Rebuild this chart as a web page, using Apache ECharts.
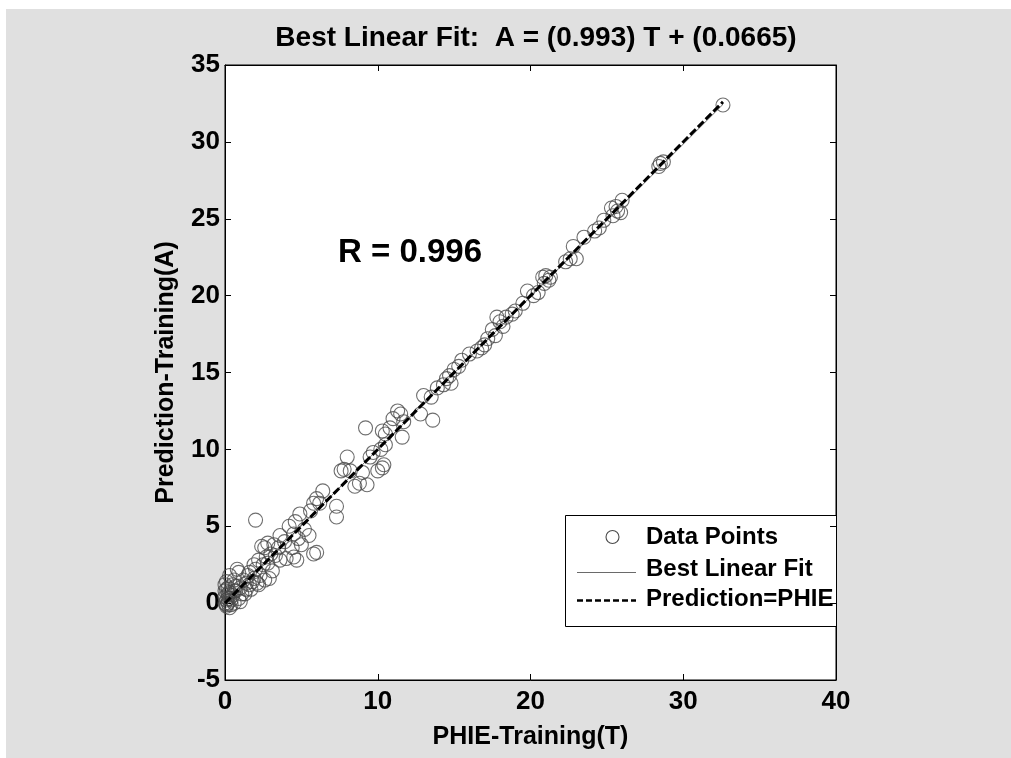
<!DOCTYPE html>
<html>
<head>
<meta charset="utf-8">
<title>Best Linear Fit</title>
<script src="https://cdn.jsdelivr.net/npm/echarts@6/dist/echarts.min.js"></script>
<style>
  html, body { margin: 0; padding: 0; background: #ffffff; }
  #chart { width: 1011px; height: 758px; }
</style>
</head>
<body>
<div id="chart"></div>
<script>
// Target values T (PHIE, training set)
const targetT = [
  32.6, 28.4, 28.7, 28.5,
  26.0, 25.6, 25.3, 25.7, 25.4, 25.9, 24.8, 24.5, 24.2,
  23.5, 23.0, 22.6, 22.3, 22.8,
  21.2, 21.0, 20.8, 20.9, 21.3, 20.5, 20.2, 19.8, 19.5,
  19.0, 18.8, 18.4, 18.0, 17.8, 18.2, 17.5, 17.7, 17.2, 17.0, 16.5, 16.0, 16.8,
  15.5, 15.3, 15.0, 14.7, 14.5, 14.3, 14.8, 13.9, 13.5, 13.0, 13.6, 12.8,
  11.5, 11.3, 11.0, 11.7, 11.6, 10.8, 10.5, 10.3, 10.5, 10.2, 9.5, 9.7,
  10.0, 10.3, 10.4, 9.2, 9.0, 9.3, 8.8, 8.2, 8.5, 7.6, 7.8, 8.0,
  6.4, 6.0, 6.2, 5.8, 7.3, 7.3, 5.6, 4.9, 4.6, 4.2, 4.5, 4.8, 5.2, 5.5, 5.0, 5.8, 6.0,
  4.4, 3.9, 3.5, 3.2, 2.8, 2.6, 2.4, 3.0, 2.8, 3.6, 4.0, 4.5, 4.7,
  2.2, 1.9, 2.0, 1.6, 2.3, 2.6, 2.9, 3.1, 1.8, 1.4, 1.2, 1.0, 0.9, 1.3, 0.7,
  0.5, 0.3, 0.2, 0.1, 0.0, 0.1, 0.4, 0.2, 0.5, 0.3, 0.6, 0.8, 0.1, 0.0,
  2.0, 3.6, 3.3, 1.5, 1.7, 0.9, 1.0, 0.6, 0.3, 2.5, 2.7, 2.2, 1.9,
  0.0, 0.1, 0.2, 0.0, 0.3, 0.4, 0.1, 0.2, 0.6, 0.7, 1.1, 1.4, 1.6, 2.1
];

// Network outputs A for the same samples
const outputA = [
  32.4, 28.4, 28.7, 28.6,
  26.2, 25.8, 25.7, 25.5, 25.2, 25.4, 24.9, 24.4, 24.2,
  23.8, 22.4, 22.4, 22.2, 23.2,
  21.0, 21.3, 21.2, 20.8, 21.2, 20.2, 20.0, 20.3, 19.5,
  19.0, 18.8, 18.6, 18.3, 18.6, 18.0, 17.8, 17.4, 17.2, 16.8, 16.4, 16.2, 16.6,
  15.8, 15.4, 15.2, 14.8, 14.6, 14.2, 14.3, 14.0, 13.4, 13.5, 11.9, 12.3,
  12.3, 12.5, 12.0, 11.8, 10.8, 11.4, 11.0, 11.2, 10.3, 10.0, 9.5, 9.8,
  8.6, 8.8, 9.0, 11.4, 8.5, 7.7, 7.8, 8.6, 7.6, 8.6, 8.7, 9.5,
  7.3, 6.8, 6.5, 6.5, 6.3, 5.6, 6.0, 5.8, 5.3, 5.0, 4.5, 4.2, 4.8, 4.4, 3.8, 3.2, 3.3,
  3.6, 4.0, 3.6, 3.8, 3.9, 3.6, 3.7, 3.2, 2.6, 2.8, 2.9, 3.0, 2.8,
  2.8, 2.5, 2.2, 2.0, 1.8, 1.5, 1.6, 2.1, 1.4, 1.3, 1.5, 1.0, 2.0, 0.6, 0.8,
  0.5, 0.3, 1.0, 0.2, 0.0, -0.2, -0.1, 0.6, 1.2, 1.8, 1.5, 2.2, 1.4, 0.8,
  5.4, 4.4, 3.1, 1.8, 0.9, 0.3, 0.1, 0.0, -0.3, 2.5, 3.0, 1.2, 1.6,
  0.4, 0.9, 0.3, 1.2, 0.7, 0.2, -0.1, 0.0, 0.8, 1.1, 0.6, 0.9, 1.2, 1.3
];

// Regression coefficients printed in the title: A = slope * T + intercept
const fitSlope = 0.993;
const fitIntercept = 0.0665;
const correlationR = 0.996;

// Axis ranges and tick spacing
const xTicks = { min: 0, max: 40, step: 10 };
const yTicks = { min: -5, max: 35, step: 5 };

const seriesNames = ['Data Points', 'Best Linear Fit', 'Prediction=PHIE'];

const points = targetT.map((t, i) => [t, outputA[i]]);
const tMin = Math.min(...targetT);
const tMax = Math.max(...targetT);
const fitLine = [[tMin, fitSlope * tMin + fitIntercept], [tMax, fitSlope * tMax + fitIntercept]];
const identityLine = [[tMin, tMin], [tMax, tMax]];

const FONT = '"Liberation Sans", Arial, Helvetica, sans-serif';
const tickLabel = { color: '#000', fontFamily: FONT, fontWeight: 'bold', fontSize: 26 };

const POINT_COLOR = '#4a4a4a';
const FIT_COLOR = '#6a6a6a';
const DASH = [8, 3];

// Legend box, drawn as a framed panel over the lower right of the plot
const legendBox = { x: 565, y: 515, w: 271, h: 111 };
const legendRows = [537, 569, 599];
const legendFont = 'bold 24px ' + FONT;

const legendGraphic = {
  type: 'group',
  z: 20,
  children: [
    {
      type: 'rect',
      shape: { x: legendBox.x + 0.5, y: legendBox.y + 0.5, width: legendBox.w, height: legendBox.h },
      style: { fill: '#ffffff', stroke: '#000', lineWidth: 1 }
    },
    {
      type: 'circle',
      shape: { cx: 612.5, cy: legendRows[0], r: 6.5 },
      style: { fill: 'none', stroke: POINT_COLOR, lineWidth: 1.1 }
    },
    {
      type: 'line',
      shape: { x1: 577, y1: legendRows[1] + 3.5, x2: 636, y2: legendRows[1] + 3.5 },
      style: { stroke: FIT_COLOR, lineWidth: 1 }
    },
    {
      type: 'line',
      shape: { x1: 577, y1: legendRows[2] + 1.5, x2: 636, y2: legendRows[2] + 1.5 },
      style: { stroke: '#000', lineWidth: 2.5, lineDash: [6, 3] }
    }
  ].concat(seriesNames.map((name, i) => ({
    type: 'text',
    style: {
      x: 646, y: legendRows[i], text: name, fill: '#000',
      font: legendFont, verticalAlign: 'middle', align: 'left'
    }
  })))
};

const chart = echarts.init(document.getElementById('chart'), null, { renderer: 'canvas' });

chart.setOption({
  animation: false,
  backgroundColor: '#ffffff',
  title: {
    text: 'Best Linear Fit:  A = (' + fitSlope + ') T + (' + fitIntercept + ')',
    left: 531,
    textAlign: 'center',
    top: 19,
    textStyle: { color: '#000', fontFamily: FONT, fontWeight: 'bold', fontSize: 28 }
  },
  graphic: [
    {
      type: 'rect',
      z: -10,
      silent: true,
      shape: { x: 6, y: 9, width: 1005, height: 749 },
      style: { fill: '#e0e0e0' }
    },
    {
      type: 'text',
      z: 10,
      style: {
        x: 338, y: 253,
        text: 'R = ' + correlationR,
        fill: '#000',
        font: 'bold 33px ' + FONT,
        verticalAlign: 'middle'
      }
    },
    legendGraphic
  ],
  grid: {
    left: 225,
    top: 65,
    width: 611,
    height: 615,
    show: true,
    backgroundColor: '#ffffff',
    borderColor: '#000',
    borderWidth: 1
  },
  xAxis: [
    {
      type: 'value',
      min: xTicks.min,
      max: xTicks.max,
      interval: xTicks.step,
      name: 'PHIE-Training(T)',
      nameLocation: 'middle',
      nameGap: 45,
      nameTextStyle: { color: '#000', fontFamily: FONT, fontWeight: 'bold', fontSize: 25 },
      axisLine: { show: true, onZero: false, lineStyle: { color: '#000', width: 1 } },
      axisTick: { show: true, inside: true, length: 6, lineStyle: { color: '#000' } },
      axisLabel: Object.assign({ margin: 9 }, tickLabel),
      splitLine: { show: false }
    },
    {
      type: 'value',
      position: 'top',
      min: xTicks.min,
      max: xTicks.max,
      interval: xTicks.step,
      axisLine: { show: true, onZero: false, lineStyle: { color: '#000', width: 1 } },
      axisTick: { show: true, inside: true, length: 6, lineStyle: { color: '#000' } },
      axisLabel: { show: false },
      splitLine: { show: false }
    }
  ],
  yAxis: [
    {
      type: 'value',
      min: yTicks.min,
      max: yTicks.max,
      interval: yTicks.step,
      name: 'Prediction-Training(A)',
      nameLocation: 'middle',
      nameGap: 46,
      nameRotate: 90,
      nameTextStyle: { color: '#000', fontFamily: FONT, fontWeight: 'bold', fontSize: 25 },
      axisLine: { show: true, onZero: false, lineStyle: { color: '#000', width: 1 } },
      axisTick: { show: true, inside: true, length: 6, lineStyle: { color: '#000' } },
      axisLabel: Object.assign({ margin: 5 }, tickLabel),
      splitLine: { show: false }
    },
    {
      type: 'value',
      position: 'right',
      min: yTicks.min,
      max: yTicks.max,
      interval: yTicks.step,
      axisLine: { show: true, onZero: false, lineStyle: { color: '#000', width: 1 } },
      axisTick: { show: true, inside: true, length: 6, lineStyle: { color: '#000' } },
      axisLabel: { show: false },
      splitLine: { show: false }
    }
  ],
  series: [
    {
      name: seriesNames[0],
      type: 'scatter',
      xAxisIndex: 0,
      yAxisIndex: 0,
      symbol: 'circle',
      symbolSize: 14,
      data: points,
      itemStyle: { color: 'rgba(0,0,0,0)', borderColor: POINT_COLOR, borderWidth: 1.1 },
      emphasis: { disabled: true },
      z: 3
    },
    {
      name: seriesNames[1],
      type: 'line',
      xAxisIndex: 0,
      yAxisIndex: 0,
      data: fitLine,
      symbol: 'none',
      lineStyle: { color: FIT_COLOR, width: 1, type: 'solid' },
      emphasis: { disabled: true },
      z: 4
    },
    {
      name: seriesNames[2],
      type: 'line',
      xAxisIndex: 0,
      yAxisIndex: 0,
      data: identityLine,
      symbol: 'none',
      lineStyle: { color: '#000', width: 3, type: DASH },
      emphasis: { disabled: true },
      z: 5
    }
  ]
});
</script>
</body>
</html>
